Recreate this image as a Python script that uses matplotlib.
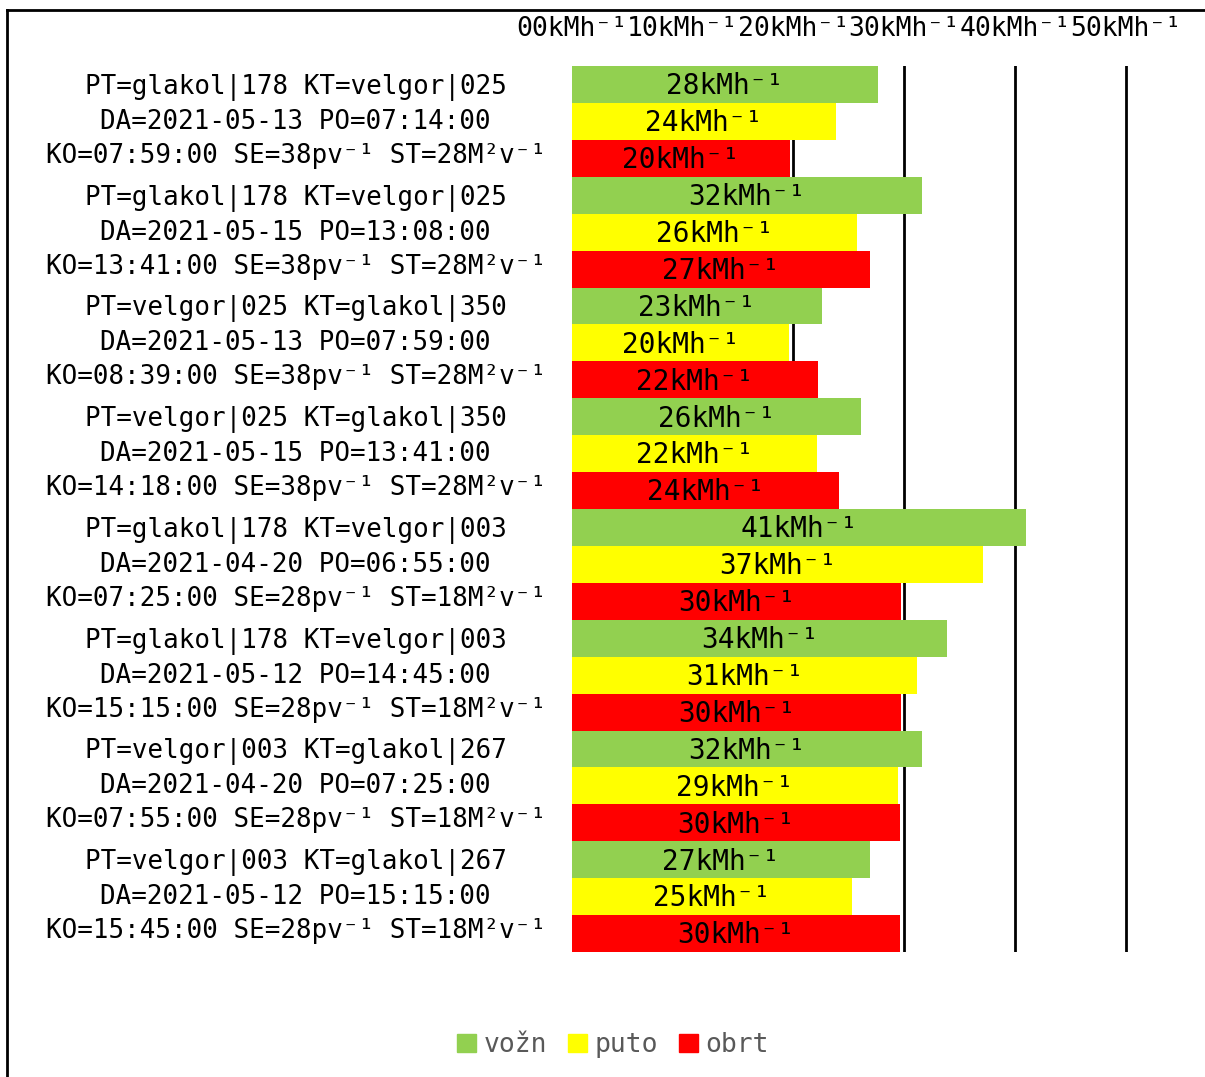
import matplotlib.pyplot as plt
from matplotlib.patches import Patch
from matplotlib.lines import Line2D

# bar labels (three lines per group)
groups = [
    "PT=glakol|178 KT=velgor|025\nDA=2021-05-13 PO=07:14:00\nKO=07:59:00 SE=38pv⁻¹ ST=28M²v⁻¹",
    "PT=glakol|178 KT=velgor|025\nDA=2021-05-15 PO=13:08:00\nKO=13:41:00 SE=38pv⁻¹ ST=28M²v⁻¹",
    "PT=velgor|025 KT=glakol|350\nDA=2021-05-13 PO=07:59:00\nKO=08:39:00 SE=38pv⁻¹ ST=28M²v⁻¹",
    "PT=velgor|025 KT=glakol|350\nDA=2021-05-15 PO=13:41:00\nKO=14:18:00 SE=38pv⁻¹ ST=28M²v⁻¹",
    "PT=glakol|178 KT=velgor|003\nDA=2021-04-20 PO=06:55:00\nKO=07:25:00 SE=28pv⁻¹ ST=18M²v⁻¹",
    "PT=glakol|178 KT=velgor|003\nDA=2021-05-12 PO=14:45:00\nKO=15:15:00 SE=28pv⁻¹ ST=18M²v⁻¹",
    "PT=velgor|003 KT=glakol|267\nDA=2021-04-20 PO=07:25:00\nKO=07:55:00 SE=28pv⁻¹ ST=18M²v⁻¹",
    "PT=velgor|003 KT=glakol|267\nDA=2021-05-12 PO=15:15:00\nKO=15:45:00 SE=28pv⁻¹ ST=18M²v⁻¹",
]
vozn = [27.6, 31.6, 22.6, 26.1, 41.0, 33.9, 31.6, 26.9]
puto = [23.8, 25.7, 19.6, 22.1, 37.1, 31.2, 29.4, 25.3]
obrt = [19.7, 26.9, 22.2, 24.1, 29.7, 29.7, 29.6, 29.6]
series = [("vožn", vozn, "#92d050"), ("puto", puto, "#ffff00"), ("obrt", obrt, "#ff0000")]
xticks = [0, 10, 20, 30, 40, 50]
xticklabels = ["00kMh⁻¹", "10kMh⁻¹", "20kMh⁻¹", "30kMh⁻¹", "40kMh⁻¹", "50kMh⁻¹"]

plt.rcParams['font.family'] = ['DejaVu Sans Mono', 'DejaVu Sans']

fig = plt.figure(figsize=(12.05, 10.77), dpi=100)
ax = fig.add_axes([572 / 1205, 1 - 952 / 1077, 609 / 1205, 886 / 1077])

for i, name in enumerate(groups):
    for j, (sname, vals, color) in enumerate(series):
        y = i * 3 + j
        v = vals[i]
        ax.barh(y, v, height=1.0, color=color, zorder=2)
        ax.text(v / 2, y + 0.05, "%.0fkMh⁻¹" % v, ha="center", va="center",
                fontsize=20, color="black", zorder=3)

for x in xticks:
    ax.axvline(x, color="black", lw=2, zorder=1)

ax.set_xlim(0, 55)
ax.set_ylim(len(groups) * 3 - 0.5, -0.5)
ax.xaxis.tick_top()
ax.set_xticks(xticks)
ax.set_xticklabels(xticklabels, fontsize=19)
ax.set_yticks([i * 3 + 1 for i in range(len(groups))])
ax.set_yticklabels(groups, fontsize=18.6, linespacing=1.4, multialignment="center",
                   va="center")
ax.tick_params(axis="x", length=0, pad=17)
ax.tick_params(axis="y", length=0, pad=19)
for s in ax.spines.values():
    s.set_visible(False)

handles = [Patch(color=c, label=n) for n, _, c in series]
leg = fig.legend(handles=handles, loc="center", bbox_to_anchor=(613 / 1205, 1 - 1045 / 1077),
                 ncol=3, frameon=False, fontsize=19, handlelength=0.7, handleheight=0.7,
                 handletextpad=0.3, columnspacing=0.8)
for t in leg.get_texts():
    t.set_color("#595959")

# outer frame (left and top edges visible)
fig.add_artist(Line2D([7 / 1205, 7 / 1205], [0, 1 - 10 / 1077], color="black", lw=2,
                      transform=fig.transFigure))
fig.add_artist(Line2D([7 / 1205, 1], [1 - 10 / 1077, 1 - 10 / 1077], color="black", lw=2,
                      transform=fig.transFigure))

fig.savefig("out.png", dpi=100)
